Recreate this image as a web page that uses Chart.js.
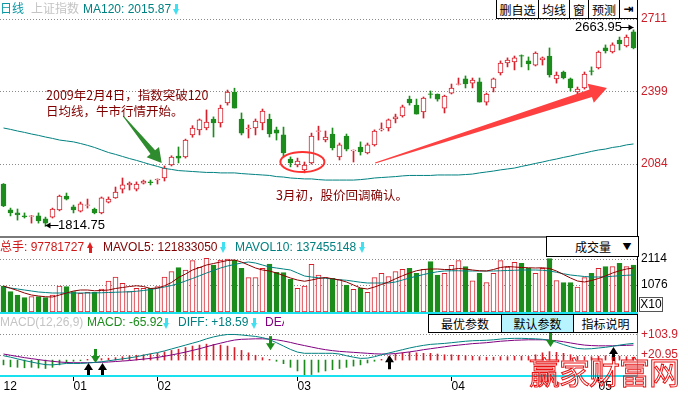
<!DOCTYPE html>
<html lang="zh">
<head>
<meta charset="utf-8">
<title>上证指数 日线</title>
<script src="https://cdn.jsdelivr.net/npm/chart.js@4.4.1/dist/chart.umd.min.js"></script>
<style>
  html, body { margin: 0; padding: 0; background: #fff; }
  #stage { position: relative; width: 688px; height: 395px; overflow: hidden;
           font-family: "Liberation Sans", Arial, sans-serif; font-size: 12px; }
  #stage canvas { position: absolute; left: 0; }
  .t { position: absolute; white-space: nowrap; line-height: 14px; }
  .cjk { font-family: "Noto Sans CJK SC", sans-serif; }
  .note { position: absolute; white-space: nowrap; color: #800000;
          font-family: "Noto Sans CJK SC", sans-serif; font-size: 12.5px; line-height: 16px; }
  .dn, .up { position: absolute; width: 7px; height: 11px; }
  .dn::before, .up::before { content: ''; position: absolute; left: 2px; width: 3px; height: 6px; background: currentColor; }
  .dn::before { top: 0; }
  .up::before { bottom: 0; }
  .dn::after, .up::after { content: ''; position: absolute; left: 0; width: 0; height: 0;
                           border-left: 3.5px solid transparent; border-right: 3.5px solid transparent; }
  .dn::after { top: 5px; border-top: 6px solid currentColor; }
  .up::after { top: 0; border-bottom: 6px solid currentColor; }
  .box { position: absolute; box-sizing: border-box; border: 1px solid #000; background: #fff; display: flex; }
  .box span { box-sizing: border-box; display: flex; align-items: center; justify-content: center;
              border-left: 1px solid #000; font-family: "Noto Sans CJK SC", sans-serif; font-size: 12px; color: #000; }
  .box span:first-child { border-left: 0; }
  .rule { position: absolute; }
</style>
</head>
<body>
<div id="stage">
  <canvas id="priceChart" width="688" height="238" style="top:0"></canvas>
  <canvas id="volChart" width="688" height="76" style="top:237px"></canvas>
  <canvas id="macdChart" width="688" height="82" style="top:313px"></canvas>

  <div class="rule" style="left:0;top:236px;width:638px;height:2px;background:#7a7a7a"></div>
  <div class="rule" style="left:0;top:312px;width:638px;height:2px;background:#18e0ee"></div>
  <div class="rule" style="left:0;top:375px;width:638px;height:2px;background:#18e0ee"></div>
  <div class="rule" style="left:637px;top:313px;width:1px;height:64px;background:#18e0ee"></div>

  <!-- header -->
  <div class="t cjk" style="left:0;top:1px;color:#0a98a4">日线</div>
  <div class="t cjk" style="left:31px;top:1px;color:#c4c4c4">上证指数</div>
  <div class="t" style="left:83px;top:2px;color:#008080">MA120: 2015.87</div>
  <div class="dn" style="left:173px;top:4px;color:#40e0f0"></div>
  <div class="box" style="left:496px;top:-1px;width:142px;height:20px">
    <span style="width:41px">删自选</span><span style="width:31px">均线</span><span style="width:19px">窗</span><span style="width:31px">预测</span><span style="width:18px;font-family:'DejaVu Sans';font-weight:bold">⇥</span>
  </div>

  <!-- price notes -->
  <div class="note" style="left:46px;top:87px">2009年2月4日，指数突破120</div>
  <div class="note" style="left:46px;top:103px">日均线，牛市行情开始。</div>
  <div class="note" style="left:276px;top:187px">3月初，股价回调确认。</div>
  <div class="t" style="left:58px;top:218px;font-size:13px;color:#000">1814.75</div>
  <div class="t" style="left:575px;top:20px;font-size:13px;color:#000">2663.95</div>

  <!-- volume header -->
  <div class="t cjk" style="left:0;top:239px;color:#d01818">总手</div>
  <div class="t" style="left:24px;top:240px;color:#d01818">: 97781727</div>
  <div class="up" style="left:87px;top:242px;color:#e02020"></div>
  <div class="t" style="left:103px;top:240px;color:#800000">MAVOL5: 121833050</div>
  <div class="dn" style="left:220px;top:242px;color:#40e0f0"></div>
  <div class="t" style="left:235px;top:240px;color:#008080">MAVOL10: 137455148</div>
  <div class="dn" style="left:359px;top:242px;color:#40e0f0"></div>
  <div class="box" style="left:546px;top:236px;width:93px;height:21px">
    <span style="width:70px;justify-content:flex-end;padding-right:6px">成交量</span>
    <span style="border-left:0;width:20px;font-size:9px">▼</span>
  </div>
  <div class="t" style="left:639px;top:297px;width:22px;height:13px;border:1px solid #555;line-height:13px;text-align:center">X10</div>

  <!-- macd header -->
  <div class="t" style="left:0;top:315px;color:#c4c4c4">MACD(12,26,9)</div>
  <div class="t" style="left:87px;top:315px;color:#1a8c1a">MACD: -65.92</div>
  <div class="dn" style="left:163px;top:318px;color:#40e0f0"></div>
  <div class="t" style="left:178px;top:315px;color:#008080">DIFF: +18.59</div>
  <div class="dn" style="left:251px;top:318px;color:#40e0f0"></div>
  <div class="t" style="left:265px;top:315px;width:19px;overflow:hidden;color:#800080">DEA</div>
  <div class="box" style="left:428px;top:314px;width:210px;height:19px">
    <span style="width:72px">最优参数</span><span style="width:72px;background:#b8f4ff">默认参数</span><span style="width:64px">指标说明</span>
  </div>

  <div class="t cjk" style="left:529px;top:351px;font-size:31px;line-height:40px;letter-spacing:-1px;color:transparent;-webkit-text-stroke:1px #e81010">赢家财富网</div>
</div>

<script>
// daily candles, Dec 2008 - May 2009
const open = [1998, 1886, 1873, 1860, 1858, 1860, 1847, 1855, 1886, 1946,
  1899, 1881, 1905, 1890, 1873, 1920, 1938, 1976, 1994, 1976,
  2002, 2007, 2016, 2024, 2080, 2119, 2115, 2210, 2232, 2240,
  2279, 2262, 2348, 2395, 2279, 2236, 2240, 2262, 2279, 2232,
  2210, 2106, 2080, 2059, 2089, 2225, 2188, 2214, 2115, 2205,
  2141, 2158, 2132, 2167, 2232, 2240, 2279, 2292, 2365, 2339,
  2309, 2388, 2387, 2326, 2391, 2428, 2452, 2434, 2439, 2352,
  2413, 2478, 2521, 2525, 2553, 2530, 2512, 2534, 2551, 2452,
  2482, 2452, 2396, 2413, 2487, 2500, 2586, 2569, 2620, 2595, 2656];
const high = [2000, 1894, 1890, 1873, 1862, 1873, 1855, 1894, 1950, 1959,
  1907, 1920, 1933, 1894, 1942, 1942, 1985, 2024, 2007, 2007,
  2015, 2015, 2020, 2076, 2120, 2158, 2192, 2250, 2279, 2318,
  2288, 2339, 2404, 2412, 2305, 2253, 2279, 2322, 2300, 2244,
  2244, 2115, 2110, 2093, 2218, 2248, 2227, 2240, 2175, 2214,
  2145, 2180, 2175, 2232, 2262, 2279, 2300, 2339, 2378, 2365,
  2374, 2400, 2387, 2382, 2430, 2456, 2465, 2456, 2456, 2391,
  2456, 2530, 2543, 2551, 2556, 2547, 2569, 2547, 2586, 2482,
  2486, 2456, 2417, 2482, 2504, 2573, 2599, 2608, 2633, 2642, 2663.95];
const low = [1900, 1860, 1842, 1851, 1829, 1829, 1814.75, 1851, 1882, 1929,
  1873, 1877, 1894, 1869, 1869, 1916, 1936, 1959, 1972, 1968,
  1998, 1994, 1998, 2011, 2076, 2089, 2110, 2200, 2210, 2232,
  2201, 2244, 2339, 2326, 2210, 2197, 2210, 2232, 2201, 2188,
  2115, 2072, 2072, 2046, 2084, 2188, 2180, 2145, 2102, 2141,
  2093, 2123, 2128, 2162, 2227, 2227, 2262, 2287, 2339, 2300,
  2283, 2369, 2356, 2305, 2387, 2426, 2413, 2413, 2352, 2339,
  2396, 2469, 2504, 2491, 2504, 2491, 2508, 2512, 2460, 2434,
  2452, 2400, 2382, 2408, 2469, 2495, 2564, 2564, 2577, 2590, 2582];
const close = [1903, 1873, 1864, 1856, 1860, 1838, 1829, 1890, 1946, 1933,
  1886, 1912, 1908, 1873, 1938, 1933, 1963, 1994, 2002, 1998,
  2011, 2004, 2019, 2067, 2114, 2110, 2188, 2240, 2275, 2266,
  2262, 2326, 2395, 2326, 2218, 2240, 2270, 2313, 2214, 2218,
  2132, 2089, 2097, 2080, 2205, 2228, 2201, 2154, 2167, 2149,
  2145, 2137, 2167, 2227, 2236, 2275, 2288, 2331, 2348, 2300,
  2369, 2385, 2365, 2378, 2412, 2431, 2430, 2447, 2352, 2387,
  2452, 2521, 2534, 2543, 2550, 2517, 2564, 2543, 2469, 2469,
  2456, 2413, 2408, 2473, 2485, 2568, 2573, 2599, 2603, 2633, 2586];
const ma120 = [2240, 2234, 2227, 2221, 2214, 2208, 2201, 2195, 2188, 2184,
  2180, 2173, 2165, 2156, 2145, 2134, 2126, 2117, 2108, 2100,
  2091, 2082, 2074, 2065, 2061, 2056, 2054, 2052, 2050, 2048,
  2048, 2046, 2046, 2046, 2043, 2041, 2039, 2037, 2035, 2030,
  2028, 2024, 2022, 2020, 2020, 2017, 2015, 2015, 2015, 2015,
  2015, 2017, 2020, 2024, 2026, 2028, 2030, 2033, 2035, 2035,
  2035, 2035, 2037, 2037, 2037, 2037, 2039, 2041, 2046, 2050,
  2054, 2059, 2063, 2067, 2074, 2080, 2087, 2093, 2100, 2106,
  2113, 2119, 2126, 2132, 2139, 2145, 2149, 2156, 2160, 2167, 2171];

// volume (axis units, X10)
const volume = [1040, 813, 680, 573, 613, 613, 573, 680, 1040, 1013,
  813, 747, 787, 787, 920, 1240, 1400, 1147, 813, 947,
  947, 947, 1013, 1400, 1613, 1773, 1680, 2053, 1787, 2147,
  1880, 2080, 2120, 2080, 1747, 1373, 1373, 1747, 1920, 1587,
  1573, 1307, 947, 1040, 1907, 1480, 1373, 1347, 1300, 1080,
  907, 947, 787, 1373, 1547, 1413, 1613, 1707, 1747, 1547,
  1707, 2013, 1480, 1547, 1867, 2053, 1813, 1250, 1547, 1173,
  1547, 2053, 1800, 1987, 1947, 1747, 1547, 1747, 2133, 1253,
  1173, 1173, 1000, 1373, 1547, 1747, 1813, 1813, 1947, 1813, 1880];
const mavol5 = [1040, 950, 860, 760, 680, 640, 610, 600, 680, 760,
  840, 880, 880, 850, 860, 880, 940, 980, 1020, 1050,
  1020, 940, 960, 1050, 1180, 1380, 1520, 1680, 1780, 1880,
  1940, 2000, 2060, 2080, 2000, 1880, 1760, 1680, 1640, 1560,
  1460, 1360, 1280, 1230, 1280, 1340, 1380, 1330, 1280, 1200,
  1080, 960, 920, 1000, 1100, 1200, 1330, 1450, 1560, 1650,
  1700, 1720, 1720, 1700, 1700, 1740, 1720, 1680, 1650, 1640,
  1700, 1780, 1820, 1800, 1780, 1770, 1760, 1770, 1740, 1640,
  1500, 1360, 1240, 1200, 1260, 1340, 1440, 1560, 1650, 1720, 1760];
const mavol10 = [1000, 960, 920, 880, 840, 800, 780, 760, 760, 760,
  760, 760, 760, 765, 770, 780, 790, 800, 810, 830,
  860, 900, 950, 1000, 1060, 1140, 1240, 1340, 1450, 1560,
  1660, 1760, 1840, 1900, 1960, 2000, 1960, 1880, 1800, 1760,
  1720, 1680, 1560, 1440, 1400, 1370, 1350, 1320, 1290, 1270,
  1230, 1190, 1160, 1160, 1160, 1160, 1200, 1280, 1360, 1430,
  1500, 1560, 1610, 1640, 1650, 1650, 1640, 1640, 1640, 1640,
  1640, 1650, 1660, 1670, 1680, 1680, 1680, 1670, 1640, 1590,
  1530, 1480, 1450, 1420, 1400, 1400, 1410, 1430, 1450, 1470, 1480];

// MACD(12,26,9)
const diff = [18, 12, 5, -2, -8, -14, -19, -20, -17, -14,
  -14, -14, -12, -10, -7, -3, 1, 5, 9, 14,
  20, 26, 31, 38, 46, 54, 62, 70, 78, 88,
  96, 102, 106, 106, 104, 101, 98, 93, 85, 72,
  58, 44, 33, 28, 28, 28, 28, 28, 25, 18,
  12, 7, 8, 14, 22, 29, 36, 43, 50, 56,
  61, 65, 67, 69, 72, 75, 78, 80, 81, 82,
  84, 87, 89, 90, 90, 89, 88, 86, 82, 74,
  64, 55, 48, 46, 47, 50, 53, 57, 62, 66, 69];
const dea = [25, 20, 15, 10, 6, 2, -2, -5, -8, -10,
  -11, -11, -11, -10, -9, -8, -6, -4, -2, 1,
  4, 7, 11, 16, 21, 27, 33, 40, 47, 55,
  63, 70, 77, 83, 86, 87, 88, 88, 87, 84,
  79, 73, 66, 60, 54, 48, 43, 39, 36, 34,
  32, 30, 28, 26, 25, 25, 27, 30, 34, 38,
  43, 47, 51, 55, 59, 62, 65, 68, 70, 72,
  75, 78, 80, 82, 83, 84, 84, 84, 83, 80,
  76, 71, 66, 62, 60, 59, 59, 59, 60, 61, 62];
const macd = [-20, -28, -30, -32, -30, -33, -35, -30, -20, -10,
  -5, -3, 3, 4, 6, 8, 10, 14, 18, 20,
  22, 25, 28, 34, 40, 45, 52, 58, 62, 66,
  65, 62, 58, 52, 40, 30, 20, 10, 3, -5,
  -15, -30, -45, -65, -60, -50, -45, -40, -35, -30,
  -25, -20, -12, -5, 3, 14, 25, 30, 32, 30,
  28, 28, 25, 22, 22, 20, 18, 16, 14, 12,
  12, 14, 14, 16, 16, 15, 22, 30, 35, 32,
  28, 22, 15, 14, 14, 16, 18, 18, 16, 14, 12];
const buySignals = [12, 14, 55, 87];
const buyLevels = [-12, -12, 20, 54];
const sellSignals = [13, 38, 78];
const sellLevels = [-12, 41, 54];

// bottom axis month marks
const monthIdx = [0, 10, 22, 42, 64, 85];
const monthText = ['12', '01', '02', '03', '04', '05'];

// annotation anchors, [session index, value]
const breakArrow = [[17.1, 2292], [22.6, 2089]];
const trendArrow = [[53.1, 2089], [86.2, 2413]];
const dipMark = [42.7, 2093];

const sessions = close.map((_, i) => i);
const UP = '#d8202c';
const DOWN = '#1c8c1c';
const rising = close.map((c, i) => c >= open[i]);

Chart.defaults.font.family = '"Liberation Sans", Arial, sans-serif';
Chart.defaults.font.size = 12;

function rightAxis(min, max, ticks, color, borderColor, fmt) {
    return {
        position: 'right',
        min: min,
        max: max,
        afterBuildTicks: s => { s.ticks = ticks.map(v => ({ value: v })); },
        afterFit: s => { s.width = 51; s.paddingTop = 0; s.paddingBottom = 0; },
        grid: { color: '#8a8a8a', lineWidth: 1, drawTicks: false },
        border: { display: true, color: borderColor, width: 1, dash: [1, 2] },
        ticks: { color: color, padding: 4, font: { size: 12 }, callback: fmt || (v => v) }
    };
}

function baseOptions() {
    return {
        responsive: false,
        animation: false,
        devicePixelRatio: 1,
        events: [],
        plugins: { legend: { display: false }, tooltip: { enabled: false } }
    };
}

function taperArrow(ctx, from, to, w0, w1, headW, headL, color) {
    const dx = to[0] - from[0], dy = to[1] - from[1];
    const len = Math.hypot(dx, dy);
    const ux = dx / len, uy = dy / len, nx = -uy, ny = ux;
    const bx = to[0] - ux * headL, by = to[1] - uy * headL;
    ctx.beginPath();
    ctx.moveTo(from[0] + nx * w0 / 2, from[1] + ny * w0 / 2);
    ctx.lineTo(bx + nx * w1 / 2, by + ny * w1 / 2);
    ctx.lineTo(bx + nx * headW / 2, by + ny * headW / 2);
    ctx.lineTo(to[0], to[1]);
    ctx.lineTo(bx - nx * headW / 2, by - ny * headW / 2);
    ctx.lineTo(bx - nx * w1 / 2, by - ny * w1 / 2);
    ctx.lineTo(from[0] - nx * w0 / 2, from[1] - ny * w0 / 2);
    ctx.closePath();
    ctx.fillStyle = color;
    ctx.fill();
}

function pointer(ctx, x, y, dir) {
    // small line arrow used for the low / high labels
    ctx.strokeStyle = '#000';
    ctx.fillStyle = '#000';
    ctx.lineWidth = 1;
    ctx.beginPath();
    ctx.moveTo(x, y + 0.5);
    ctx.lineTo(x - dir * 13, y + 0.5);
    ctx.stroke();
    ctx.beginPath();
    ctx.moveTo(x, y + 0.5);
    ctx.lineTo(x - dir * 5, y - 2.5);
    ctx.lineTo(x - dir * 5, y + 3.5);
    ctx.closePath();
    ctx.fill();
}

const priceNotes = {
    id: 'priceNotes',
    afterDatasetsDraw(chart) {
        const { ctx, scales: { x, y } } = chart;
        const px = p => [x.getPixelForValue(p[0]), y.getPixelForValue(p[1])];
        ctx.save();
        const c = px(dipMark);
        ctx.beginPath();
        ctx.ellipse(c[0], c[1], 22, 10, 0, 0, Math.PI * 2);
        ctx.strokeStyle = '#ff3030';
        ctx.lineWidth = 2;
        ctx.stroke();
        taperArrow(ctx, px(breakArrow[0]), px(breakArrow[1]), 1, 6, 16, 14, '#2e8b2e');
        taperArrow(ctx, px(trendArrow[0]), px(trendArrow[1]), 1, 8, 20, 17, '#ff4040');
        const lo = low.indexOf(Math.min(...low));
        const hi = high.indexOf(Math.max(...high));
        pointer(ctx, x.getPixelForValue(lo), Math.round(y.getPixelForValue(low[lo])) - 1, -1);
        pointer(ctx, x.getPixelForValue(hi), Math.round(y.getPixelForValue(high[hi])) - 3, 1);
        ctx.restore();
    }
};

const signals = {
    id: 'signals',
    afterDatasetsDraw(chart) {
        const { ctx, scales: { x, y } } = chart;
        const draw = (i, v, up, color) => {
            const cx = Math.round(x.getPixelForValue(i)) + 0.5;
            const ty = y.getPixelForValue(v);
            const d = up ? 1 : -1;
            ctx.fillStyle = color;
            ctx.beginPath();
            ctx.moveTo(cx, ty);
            ctx.lineTo(cx - 4.5, ty + d * 7);
            ctx.lineTo(cx + 4.5, ty + d * 7);
            ctx.closePath();
            ctx.fill();
            ctx.fillRect(cx - 1.5, up ? ty + 6 : ty - 14, 3, 8);
        };
        ctx.save();
        buySignals.forEach((i, k) => draw(i, buyLevels[k], true, '#000'));
        sellSignals.forEach((i, k) => draw(i, sellLevels[k], false, '#1c8c1c'));
        ctx.restore();
    }
};

// price panel
new Chart(document.getElementById('priceChart'), {
    type: 'bar',
    data: {
        labels: sessions,
        datasets: [
            {
                data: low.map((l, i) => [l, high[i]]),
                backgroundColor: rising.map(r => r ? UP : DOWN),
                barThickness: 1,
                grouped: false,
                order: 3
            },
            {
                data: open.map((o, i) => [Math.min(o, close[i]), Math.max(o, close[i])]),
                backgroundColor: rising.map(r => r ? '#ffffff' : DOWN),
                borderColor: rising.map(r => r ? UP : DOWN),
                borderWidth: 1,
                borderSkipped: false,
                barThickness: 5,
                grouped: false,
                order: 2
            },
            {
                type: 'line',
                data: ma120,
                borderColor: '#008080',
                borderWidth: 1,
                pointRadius: 0,
                order: 1
            }
        ]
    },
    options: Object.assign(baseOptions(), {
        layout: { padding: { top: 19, bottom: 1, left: 0, right: 0 } },
        scales: {
            x: { display: false, offset: true },
            y: rightAxis(1769, 2711, [2084, 2399, 2711], '#cc1f2a', '#000')
        }
    }),
    plugins: [priceNotes]
});

// volume panel
new Chart(document.getElementById('volChart'), {
    type: 'bar',
    data: {
        labels: sessions,
        datasets: [
            {
                data: volume,
                backgroundColor: rising.map(r => r ? '#ffffff' : DOWN),
                borderColor: rising.map(r => r ? UP : DOWN),
                borderWidth: 1,
                borderSkipped: false,
                barThickness: 5,
                order: 3
            },
            { type: 'line', data: mavol5, borderColor: '#8b0000', borderWidth: 1, pointRadius: 0, order: 1 },
            { type: 'line', data: mavol10, borderColor: '#008080', borderWidth: 1, pointRadius: 0, order: 2 }
        ]
    },
    options: Object.assign(baseOptions(), {
        layout: { padding: { top: 0, bottom: 1, left: 0, right: 0 } },
        scales: {
            x: { display: false, offset: true },
            y: rightAxis(0, 3000, [1076, 2114], '#000', '#000')
        }
    })
});

// MACD panel
new Chart(document.getElementById('macdChart'), {
    type: 'bar',
    data: {
        labels: sessions,
        datasets: [
            {
                data: macd,
                backgroundColor: macd.map(v => v >= 0 ? UP : DOWN),
                barThickness: 1,
                order: 3
            },
            { type: 'line', data: diff, borderColor: '#008080', borderWidth: 1, pointRadius: 0, order: 1 },
            { type: 'line', data: dea, borderColor: '#800080', borderWidth: 1, pointRadius: 0, order: 2 }
        ]
    },
    options: Object.assign(baseOptions(), {
        layout: { padding: 0 },
        scales: {
            x: {
                offset: true,
                grid: {
                    offset: false,
                    drawOnChartArea: false,
                    drawTicks: true,
                    tickLength: 5,
                    color: c => (c.index > 0 && monthIdx.includes(c.index)) ? '#000' : 'rgba(0,0,0,0)'
                },
                border: { display: false },
                ticks: {
                    autoSkip: false,
                    maxRotation: 0,
                    align: 'start',
                    padding: -2,
                    color: '#000',
                    font: { size: 12 },
                    callback: (v, i) => {
                        const k = monthIdx.indexOf(i);
                        return k < 0 ? '' : monthText[k];
                    }
                },
                afterFit: s => { s.height = 19; s.paddingLeft = 0; s.paddingRight = 0; }
            },
            y: rightAxis(-66, 195, [20.95, 103.9], '#cc1f2a', '#18e0ee', v => '+' + v)
        }
    }),
    plugins: [signals]
});
</script>
</body>
</html>
